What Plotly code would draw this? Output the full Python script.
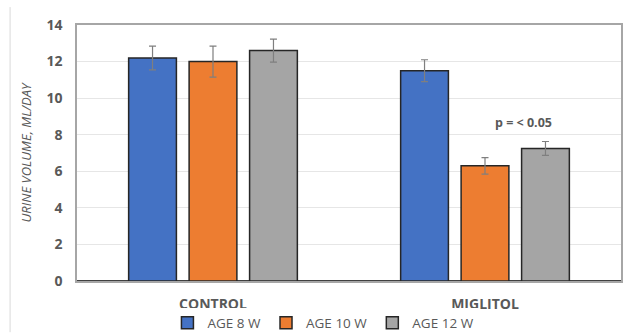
import plotly.graph_objects as go

categories = ["CONTROL", "MIGLITOL"]
series_names = ["AGE 8 W", "AGE 10 W", "AGE 12 W"]
age8 = [12.2, 11.5]
age8_err = [0.65, 0.6]
age10 = [12.0, 6.3]
age10_err = [0.85, 0.45]
age12 = [12.6, 7.25]
age12_err = [0.63, 0.38]
colors = ["#4472C4", "#ED7D31", "#A5A5A5"]
y_ticks = [0, 2, 4, 6, 8, 10, 12, 14]

TXT = "#595959"
FONT = "Open Sans"

fig = go.Figure()
for name, vals, errs, col in zip(series_names, [age8, age10, age12],
                                 [age8_err, age10_err, age12_err], colors):
    fig.add_trace(go.Bar(
        name=name, x=categories, y=vals, marker_color=col,
        marker_line=dict(color="#262626", width=1.5),
        error_y=dict(type="data", array=errs, color="#7f7f7f",
                     thickness=1.2, width=3.5),
    ))

fig.add_annotation(x=1, y=8.65, xref="x", yref="y", xshift=38,
                   text="<b>p = < 0.05</b>", showarrow=False,
                   font=dict(family=FONT, size=12.5, color=TXT))

# outer chart border line on left
fig.add_shape(type="line", xref="paper", yref="paper",
              x0=-0.123, x1=-0.123, y0=-0.2, y1=1.07,
              line=dict(color="#d9d9d9", width=1))

fig.update_layout(
    width=627, height=333,
    margin=dict(l=77, r=6, t=25, b=52, autoexpand=False),
    plot_bgcolor="white", paper_bgcolor="white",
    barmode="group", bargap=0.333, bargroupgap=0.21,
    showlegend=True,
    legend=dict(orientation="h", x=0.453, xanchor="center",
                yref="container", y=0.03, yanchor="middle",
                font=dict(family=FONT, size=13.5, color=TXT),
                itemwidth=30, tracegroupgap=0, traceorder="normal"),
    font=dict(family=FONT, color=TXT),
)
fig.update_xaxes(
    showline=True, linecolor="#a6a6a6", linewidth=1.5, mirror=True,
    tickfont=dict(family=FONT, size=14, color=TXT, weight="bold"),
    ticks="", ticklabelstandoff=9,
)
fig.update_yaxes(
    range=[0, 14], tickvals=y_ticks, showgrid=True, gridcolor="#e6e6e6",
    gridwidth=1, showline=True, linecolor="#a6a6a6", linewidth=1.5, mirror=True,
    zeroline=True, zerolinecolor="#404040", zerolinewidth=1.5,
    tickfont=dict(family=FONT, size=14, color=TXT, weight="bold"),
    ticks="", ticklabelstandoff=10,
    title=dict(text="<i>URINE VOLUME, ML/DAY</i>", standoff=12,
               font=dict(family=FONT, size=13, color=TXT)),
)

fig.write_html("out.html", config={"displayModeBar": False},
               post_script="document.body.style.margin='0';document.body.style.overflow='hidden';")
